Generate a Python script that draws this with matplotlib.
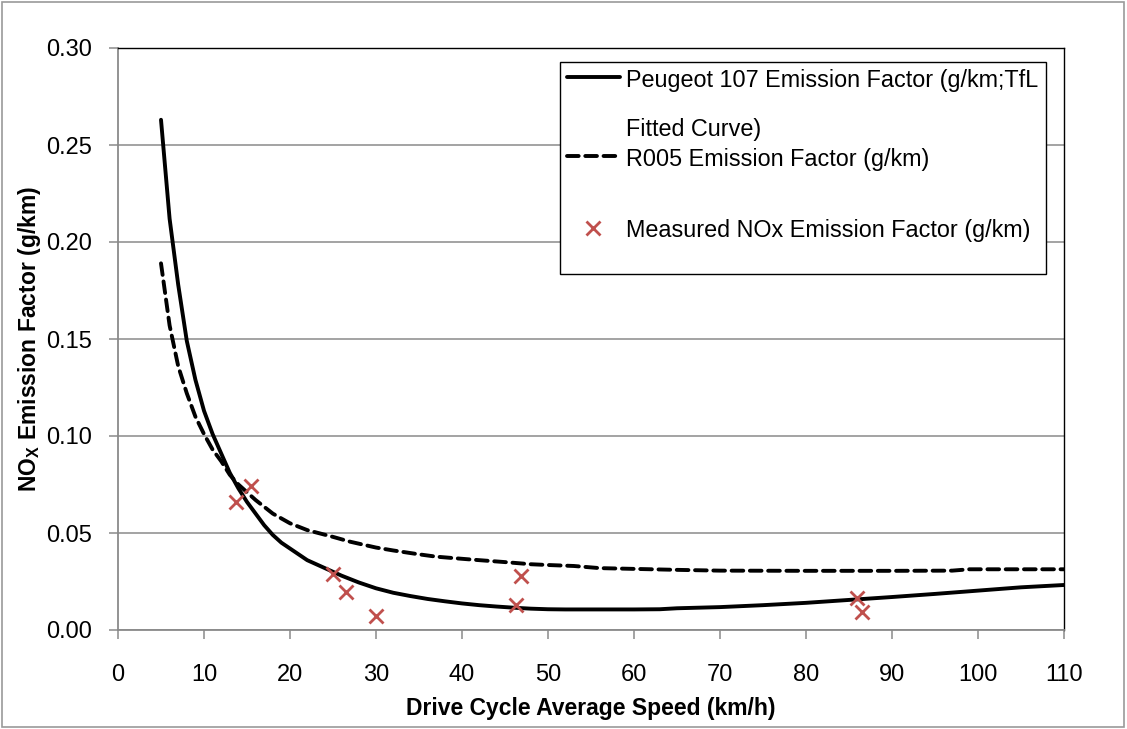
import matplotlib
matplotlib.use("Agg")
import matplotlib.pyplot as plt
from matplotlib.patches import Rectangle

plt.rcParams['font.family'] = ['Liberation Sans', 'DejaVu Sans']
plt.rcParams['mathtext.fontset'] = 'custom'
plt.rcParams['mathtext.rm'] = 'Liberation Sans:bold'
plt.rcParams['mathtext.default'] = 'rm'

# ---- data ----
peugeot_speed = [5, 6, 7, 8, 9, 10, 11, 12, 13, 14, 15, 16, 17, 18, 19, 20, 22, 24, 26, 28,
                 30, 32, 34, 36, 38, 40, 42, 44, 46, 48, 50, 52, 55, 60, 63, 65, 70, 75,
                 80, 85, 90, 95, 100, 105, 110]
peugeot_ef = [0.263, 0.212, 0.178, 0.149, 0.129, 0.113, 0.101, 0.091, 0.081, 0.073, 0.066,
              0.060, 0.054, 0.049, 0.045, 0.042, 0.036, 0.032, 0.028, 0.0245, 0.0215,
              0.0192, 0.0175, 0.0160, 0.0148, 0.0137, 0.0128, 0.0121, 0.0115, 0.0110,
              0.0107, 0.0106, 0.0106, 0.0106, 0.0107, 0.0112, 0.0118, 0.0128, 0.0140,
              0.0155, 0.0170, 0.0186, 0.0203, 0.0220, 0.0232]

r005_speed = [5, 6, 7, 8, 9, 10, 11, 12, 13, 14, 15, 16, 18, 20, 22, 25, 27, 30, 32, 35,
              37, 40, 42, 45, 48, 50, 53, 56, 60, 65, 70, 80, 90, 97, 99, 110]
r005_ef = [0.189, 0.157, 0.136, 0.122, 0.110, 0.101, 0.093, 0.087, 0.080, 0.075, 0.071,
           0.067, 0.060, 0.055, 0.0515, 0.048, 0.0455, 0.0425, 0.041, 0.039, 0.0378,
           0.0367, 0.036, 0.035, 0.0339, 0.0335, 0.033, 0.0319, 0.0315, 0.031, 0.0306,
           0.0305, 0.0305, 0.0306, 0.0313, 0.0313]

measured_speed = [13.7, 15.5, 25.0, 26.5, 30.0, 46.3, 46.9, 85.9, 86.5]
measured_ef = [0.066, 0.074, 0.0287, 0.0194, 0.0074, 0.0129, 0.0278, 0.0167, 0.0094]

x_ticks = list(range(0, 111, 10))
y_ticks = [0.00, 0.05, 0.10, 0.15, 0.20, 0.25, 0.30]

label_peugeot = "Peugeot 107 Emission Factor (g/km;TfL\nFitted Curve)"
label_r005 = "R005 Emission Factor (g/km)\n"
label_measured = "Measured NOx Emission Factor (g/km)\n"

# ---- figure ----
W, H = 1127, 729
fig = plt.figure(figsize=(W / 100, H / 100), dpi=100)
ax = fig.add_axes([118 / W, 1 - 630 / H, (1064 - 118) / W, (630 - 48) / H])

fig.patches.append(Rectangle((2 / W, 2 / H), 1 - 5 / W, 1 - 4 / H, transform=fig.transFigure,
                             fill=False, edgecolor='#9a9a9a', linewidth=1.2))

grid_col = '#8a8a8a'
ax.set_axisbelow(True)
ax.yaxis.grid(True, color=grid_col, linewidth=1.1)

ax.plot(peugeot_speed, peugeot_ef, color='black', linewidth=2.8, solid_capstyle='round',
        label=label_peugeot)
ax.plot(r005_speed, r005_ef, color='black', linewidth=2.8, dashes=(3.0, 1.7),
        dash_capstyle='round', label=label_r005)
ax.plot(measured_speed, measured_ef, linestyle='none', marker='x', markersize=10,
        markeredgewidth=2.0, color='#C0504D', label=label_measured)

ax.set_xlim(0, 110)
ax.set_ylim(0, 0.30)
ax.set_xticks(x_ticks)
ax.set_yticks(y_ticks)
ax.set_yticklabels([f"{v:.2f}" for v in y_ticks])

for s in ['left', 'bottom']:
    ax.spines[s].set_color(grid_col)
    ax.spines[s].set_linewidth(1.3)
for s in ['top', 'right']:
    ax.spines[s].set_color('black')
    ax.spines[s].set_linewidth(1.0)

ax.tick_params(axis='both', direction='out', length=6.5, width=1.1, color=grid_col,
               labelsize=17, labelcolor='black')
ax.tick_params(axis='x', pad=18)
ax.tick_params(axis='y', pad=12)

ax.set_xlabel("Drive Cycle Average Speed (km/h)", fontsize=16.5, fontweight='bold')
ax.set_ylabel(r"NO$_{\mathrm{X}}$ Emission Factor (g/km)", fontsize=16.5, fontweight='bold')
ax.xaxis.set_label_coords(0.5, (630 - 709) / 582)
ax.xaxis.label.set_va('center')
ax.yaxis.set_label_coords((30 - 118) / 946, 0.5)
ax.yaxis.label.set_va('center')

leg = ax.legend(loc='upper left', bbox_to_anchor=(560 / W, 1 - 62 / H),
                bbox_transform=fig.transFigure, borderaxespad=0, fontsize=16.8,
                frameon=True, fancybox=False, edgecolor='black', framealpha=1,
                handlelength=2.25, handletextpad=0.3, borderpad=0.3, labelspacing=0.3)
leg.get_frame().set_linewidth(1.0)
texts = leg.get_texts()
texts[0].set_linespacing(2.42)
texts[1].set_linespacing(2.05)
texts[2].set_linespacing(1.1)
for col in leg._legend_handle_box.get_children():
    for item in col.get_children():
        item.align = 'top'

fig.savefig("out.png", dpi=100)
